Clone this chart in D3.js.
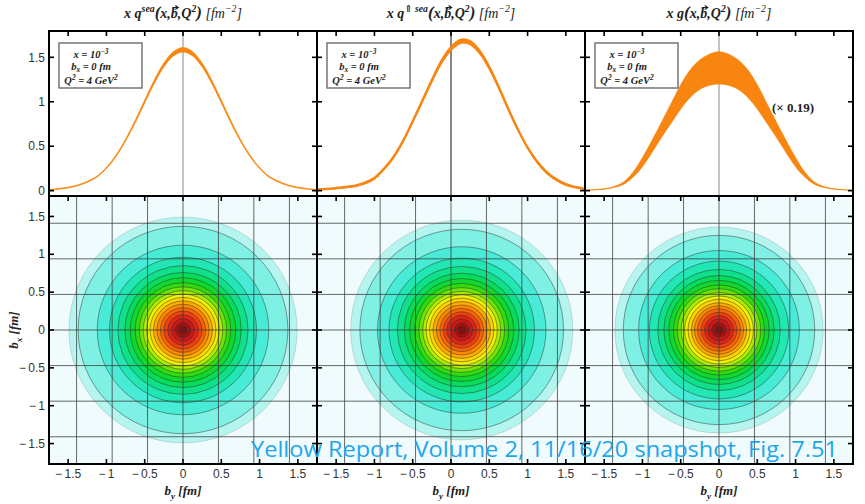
<!DOCTYPE html>
<html>
<head>
<meta charset="utf-8">
<script src="https://cdn.jsdelivr.net/npm/d3@7"></script>
<style>
  body { margin: 0; background: #fff; }
  svg { display: block; }
  .serif { font-family: "Liberation Serif", "Times New Roman", Tinos, "Nimbus Roman", "DejaVu Serif", serif; }
  .sans { font-family: "Liberation Sans", Arial, Arimo, sans-serif; }
  .note { font-family: "Open Sans", Lato, sans-serif; }
</style>
</head>
<body>
<svg id="chart" width="865" height="504"></svg>
<script>
// Impact-parameter values (fm) at which the profiles are sampled
const bValues = [-1.75,-1.625,-1.5,-1.375,-1.25,-1.125,-1,-0.875,-0.75,-0.625,-0.5,-0.375,-0.25,-0.125,0,
                 0.125,0.25,0.375,0.5,0.625,0.75,0.875,1,1.125,1.25,1.375,1.5,1.625,1.75];

// x q^sea(x, b, Q^2): upper / lower edge of the uncertainty band
const seaUpper = [0.014,0.024,0.040,0.065,0.105,0.163,0.262,0.400,0.578,0.790,1.020,1.246,1.436,1.564,1.610,
                  1.564,1.436,1.246,1.020,0.790,0.578,0.400,0.262,0.163,0.105,0.065,0.040,0.024,0.014];
const seaLower = [0.006,0.016,0.030,0.055,0.095,0.151,0.248,0.382,0.556,0.762,0.986,1.206,1.392,1.516,1.560,
                  1.516,1.392,1.206,0.986,0.762,0.556,0.382,0.248,0.151,0.095,0.055,0.030,0.016,0.006];

// x q^(up) sea for a transversely polarised proton
const polUpper = [0.020,0.026,0.036,0.048,0.064,0.096,0.151,0.257,0.393,0.574,0.796,1.028,1.260,1.472,1.623,
                  1.703,1.688,1.582,1.406,1.179,0.932,0.700,0.499,0.338,0.217,0.136,0.080,0.048,0.026];
const polLower = [0.006,0.011,0.021,0.031,0.046,0.075,0.129,0.233,0.367,0.546,0.764,0.992,1.220,1.428,1.577,
                  1.657,1.642,1.538,1.364,1.141,0.898,0.670,0.471,0.312,0.193,0.114,0.060,0.031,0.011];

// x g(x, b, Q^2), scaled by 0.19
const gluUpper = [0.006,0.012,0.022,0.045,0.095,0.205,0.370,0.565,0.770,0.980,1.190,1.360,1.470,1.535,1.563,
                  1.535,1.470,1.360,1.190,0.980,0.770,0.565,0.370,0.205,0.095,0.045,0.022,0.012,0.006];
const gluLower = [0.004,0.009,0.017,0.035,0.070,0.150,0.270,0.430,0.600,0.760,0.920,1.050,1.140,1.185,1.200,
                  1.185,1.140,1.050,0.920,0.760,0.600,0.430,0.270,0.150,0.070,0.035,0.017,0.009,0.004];

// Contour bands of the (b_x, b_y) densities: outer radius (fm) of each filled level, outermost first
const contourColors = ["#b5f5ef","#7ff0e4","#48ebd6","#22e6b4","#10e08a","#08dc5c","#10d830","#30dc10","#70e408","#b0ec04",
                       "#f0f000","#ffd400","#ffaa00","#ff8800","#f86408","#f04010","#e02418","#c81818","#a81010","#880a0a"];
const seaRadii = [1.49,1.37,1.12,0.96,0.85,0.76,0.69,0.625,0.57,0.52,0.475,0.43,0.385,0.34,0.295,0.25,0.20,0.15,0.10,0.05];
const polRadii = [1.45,1.33,1.10,0.95,0.84,0.75,0.68,0.615,0.56,0.51,0.465,0.42,0.375,0.33,0.285,0.24,0.195,0.145,0.095,0.05];
const gluRadii = [1.36,1.25,1.05,0.91,0.80,0.72,0.655,0.595,0.545,0.495,0.45,0.405,0.36,0.32,0.28,0.235,0.19,0.145,0.095,0.05];
const contourCentres = [0, 0.14, 0];   // b_y of the density maximum

// Axis ticks and labels
const topTicks = [0, 0.5, 1, 1.5];
const topTickLabels = ["0", "0.5", "1", "1.5"];
const bTicks = [-1.5, -1, -0.5, 0, 0.5, 1, 1.5];
const bTickLabels = ["\u2212\u20091.5", "\u2212\u20091", "\u2212\u20090.5", "0", "0.5", "1", "1.5"];
const gridBy = [-1.39, -0.925, -0.463, 0, 0.463, 0.925, 1.39];
const gridBx = [-1.41, -0.94, -0.47, 0, 0.47, 0.94, 1.41];

// ---------------------------------------------------------------
const svg = d3.select("#chart");
const W = 268, TOP0 = 31, MID = 196, BOT = 464;
const colX = [49, 317, 585];

const yTop = d3.scaleLinear().domain([-0.06, 1.796]).range([MID, TOP0]);
const yBot = d3.scaleLinear().domain([-1.77, 1.77]).range([BOT, MID]);

const bracket = [{t:" [",w:"normal"},{t:"fm",w:"normal"},{t:"\u22122",sup:1,w:"normal"},{t:"]",w:"normal"}];
const panels = [
  { upper: seaUpper, lower: seaLower, radii: seaRadii, centreLine: "#8a8a8a",
    title: [{t:"x q"},{t:"sea",sup:1},{t:"(",size:17},{t:"x,"},{t:"b"},{t:",Q"},{t:"2",sup:1},{t:")",size:17}].concat(bracket) },
  { upper: polUpper, lower: polLower, radii: polRadii, centreLine: "#111",
    title: [{t:"x q"},{t:"\u21d1 sea",sup:1},{t:"(",size:17},{t:"x,"},{t:"b"},{t:",Q"},{t:"2",sup:1},{t:")",size:17}].concat(bracket) },
  { upper: gluUpper, lower: gluLower, radii: gluRadii, centreLine: "#8a8a8a",
    title: [{t:"x g"},{t:"(",size:17},{t:"x,"},{t:"b"},{t:",Q"},{t:"2",sup:1},{t:")",size:17}].concat(bracket) }
];

// Rich text with super/subscripts built from tspans
function rich(textSel, parts, base, supF = 0.42, subF = 0.28) {
  let off = 0;
  parts.forEach(p => {
    const shift = p.sup ? -base * supF : p.sub ? base * subF : 0;
    const ts = textSel.append("tspan").text(p.t).attr("dy", shift - off);
    if (p.sup || p.sub) ts.style("font-size", (base * 0.7) + "px");
    if (p.size) ts.style("font-size", p.size + "px");
    if (p.w) ts.style("font-weight", p.w);
    off = shift;
  });
}
function serifText(sel, size) {
  return sel.attr("class", "serif").style("font-style", "italic").style("font-weight", "bold")
    .style("font-size", size + "px").attr("fill", "#222");
}

const defs = svg.append("defs");

panels.forEach((p, i) => {
  const x0 = colX[i];
  const x = d3.scaleLinear().domain([-1.75, 1.75]).range([x0, x0 + W]);

  defs.append("clipPath").attr("id", "clipTop" + i)
    .append("rect").attr("x", x0).attr("y", TOP0).attr("width", W).attr("height", MID - TOP0);
  defs.append("clipPath").attr("id", "clipBot" + i)
    .append("rect").attr("x", x0).attr("y", MID).attr("width", W).attr("height", BOT - MID);

  // ---------- top: profile along b_y at b_x = 0 ----------
  const gt = svg.append("g").attr("clip-path", `url(#clipTop${i})`);
  gt.append("line").attr("x1", x(0)).attr("x2", x(0)).attr("y1", TOP0).attr("y2", MID)
    .attr("stroke", p.centreLine).attr("stroke-width", 1);

  const rows = bValues.map((b, k) => ({ b, hi: p.upper[k], lo: p.lower[k] }));
  const area = d3.area().x(d => x(d.b)).y0(d => yTop(d.lo)).y1(d => yTop(d.hi)).curve(d3.curveCatmullRom);
  gt.append("path").datum(rows).attr("d", area)
    .attr("fill", "#f7850f").attr("stroke", "#f7850f").attr("stroke-width", i === 1 ? 1.2 : 0.7);

  // parameter box
  const box = svg.append("g");
  box.append("rect").attr("x", x0 + 10).attr("y", 43).attr("width", 83).attr("height", 45)
    .attr("fill", "#fff").attr("stroke", "#6b6b6b").attr("stroke-width", 1.4);
  const boxLines = [
    [{t:"x = 10"},{t:"\u22123",sup:1}],
    [{t:"b"},{t:"x",sub:1},{t:" = 0  fm"}],
    [{t:"Q"},{t:"2",sup:1},{t:" = 4 GeV"},{t:"2",sup:1}]
  ];
  [57.5, 70, 83.5].forEach((yy, k) => {
    const t = serifText(box.append("text"), 10.5).attr("x", x0 + 42).attr("y", yy).attr("text-anchor", "middle");
    rich(t, boxLines[k], 10.5, 0.34, 0.18);
  });

  // ---------- bottom: density in the transverse plane ----------
  const gb = svg.append("g").attr("clip-path", `url(#clipBot${i})`);
  gb.append("rect").attr("x", x0).attr("y", MID).attr("width", W).attr("height", BOT - MID).attr("fill", "#effbfc");
  const c = contourCentres[i];
  gb.selectAll("ellipse").data(p.radii).join("ellipse")
    .attr("cx", x(c)).attr("cy", yBot(0))
    .attr("rx", r => x(c + r) - x(c)).attr("ry", r => yBot(0) - yBot(r))
    .attr("fill", (r, k) => contourColors[k])
    .attr("stroke", (r, k) => k === 0 ? "#8fb5b3" : "#263228")
    .attr("stroke-width", 0.6).attr("stroke-opacity", 0.8);

  gb.selectAll("line.gv").data(gridBy).join("line").attr("class", "gv")
    .attr("x1", d => x(d)).attr("x2", d => x(d)).attr("y1", MID).attr("y2", BOT)
    .attr("stroke", "#3a3a3a").attr("stroke-width", 0.9).attr("stroke-opacity", 0.85);
  gb.selectAll("line.gh").data(gridBx).join("line").attr("class", "gh")
    .attr("x1", x0).attr("x2", x0 + W).attr("y1", d => yBot(d)).attr("y2", d => yBot(d))
    .attr("stroke", "#3a3a3a").attr("stroke-width", 0.9).attr("stroke-opacity", 0.85);

  // ---------- frames and inward ticks ----------
  const fr = svg.append("g").attr("stroke", "#000").attr("fill", "none");
  fr.append("rect").attr("x", x0).attr("y", TOP0).attr("width", W).attr("height", MID - TOP0).attr("stroke-width", 2);
  fr.append("rect").attr("x", x0).attr("y", MID).attr("width", W).attr("height", BOT - MID).attr("stroke-width", 2);
  const tl = 5;
  topTicks.forEach(v => {
    fr.append("line").attr("x1", x0).attr("x2", x0 + tl).attr("y1", yTop(v)).attr("y2", yTop(v)).attr("stroke-width", 1.6);
    fr.append("line").attr("x1", x0 + W).attr("x2", x0 + W - tl).attr("y1", yTop(v)).attr("y2", yTop(v)).attr("stroke-width", 1.6);
  });
  bTicks.forEach(v => {
    fr.append("line").attr("x1", x(v)).attr("x2", x(v)).attr("y1", TOP0).attr("y2", TOP0 + tl).attr("stroke-width", 1.6);
    fr.append("line").attr("x1", x(v)).attr("x2", x(v)).attr("y1", MID).attr("y2", MID + tl).attr("stroke-width", 1.6);
    fr.append("line").attr("x1", x(v)).attr("x2", x(v)).attr("y1", BOT).attr("y2", BOT - tl).attr("stroke-width", 1.6);
    fr.append("line").attr("x1", x0).attr("x2", x0 + tl).attr("y1", yBot(v)).attr("y2", yBot(v)).attr("stroke-width", 1.6);
    fr.append("line").attr("x1", x0 + W).attr("x2", x0 + W - tl).attr("y1", yBot(v)).attr("y2", yBot(v)).attr("stroke-width", 1.6);
  });

  // x tick labels and axis title
  svg.append("g").selectAll("text").data(bTicks).join("text")
    .attr("class", "sans").style("font-size", "12px")
    .attr("x", d => x(d)).attr("y", 478).attr("text-anchor", "middle").attr("fill", "#333")
    .text((d, k) => bTickLabels[k]);
  const xt = serifText(svg.append("text"), 13).attr("x", x(0)).attr("y", 495).attr("text-anchor", "middle");
  rich(xt, [{t:"b"},{t:"y",sub:1},{t:" ["},{t:"fm"},{t:"]"}], 13);

  // panel title with a vector arrow over b
  const tt = serifText(svg.append("text"), 14).attr("x", x(0)).attr("y", 18).attr("text-anchor", "middle");
  rich(tt, p.title, 14);
  const str = p.title.map(q => q.t).join("");
  const ext = tt.node().getExtentOfChar(str.indexOf("b"));
  const ay = ext.y + 1.5, ax0 = ext.x + 1.5, ax1 = ext.x + ext.width + 0.5;
  svg.append("path").attr("d", `M${ax0},${ay}H${ax1}M${ax1 - 3},${ay - 2}L${ax1},${ay}L${ax1 - 3},${ay + 2}`)
    .attr("fill", "none").attr("stroke", "#222").attr("stroke-width", 1.1);
});

// y tick labels (leftmost column only)
const ylab = svg.append("g").attr("class", "sans").style("font-size", "12px").attr("fill", "#333").attr("text-anchor", "end");
topTicks.forEach((v, k) => ylab.append("text").attr("x", 45).attr("y", yTop(v)).attr("dy", "0.35em").text(topTickLabels[k]));
bTicks.forEach((v, k) => ylab.append("text").attr("x", 45).attr("y", yBot(v)).attr("dy", "0.35em").text(bTickLabels[k]));

// y axis title
const yt = serifText(svg.append("text"), 13).attr("transform", `translate(18,${yBot(0)}) rotate(-90)`).attr("text-anchor", "middle");
rich(yt, [{t:"b"},{t:"x",sub:1},{t:" ["},{t:"fm"},{t:"]"}], 13);

// gluon scale note
svg.append("text").attr("class", "serif").style("font-weight", "bold").style("font-size", "13px")
  .attr("x", 793).attr("y", 112).attr("text-anchor", "middle").attr("fill", "#222")
  .text("(\u00d7 0.19)");

// source note
svg.append("text").attr("class", "note").style("font-size", "21px")
  .attr("x", 251).attr("y", 457).attr("fill", "#1fa5ea")
  .attr("textLength", 587).attr("lengthAdjust", "spacingAndGlyphs")
  .text("Yellow Report, Volume 2, 11/16/20 snapshot, Fig. 7.51");
</script>
</body>
</html>
